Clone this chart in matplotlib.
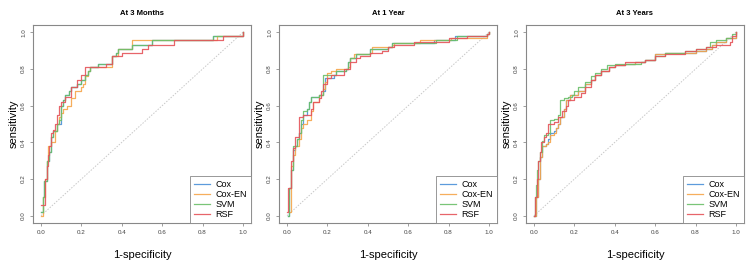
import matplotlib
matplotlib.use("Agg")
import matplotlib.pyplot as plt

plt.rcParams["font.family"] = ["Liberation Sans", "DejaVu Sans"]

# ---------- data ----------

models = ["Cox", "Cox-EN", "SVM", "RSF"]
colors = ["#4a90d9", "#f5a54a", "#6abf69", "#e5545a"]
titles = ["At 3 Months", "At 1 Year", "At 3 Years"]

# At 3 Months
m3_cox_fpr = [0, 0.01, 0.015, 0.03, 0.03, 0.04, 0.05, 0.06, 0.08, 0.1, 0.1, 0.11, 0.12, 0.14, 0.15, 0.18, 0.2, 0.22, 0.23, 0.24, 0.28, 0.35, 0.37, 0.38, 0.45, 0.55, 0.85, 0.99, 1.0]
m3_cox_tpr = [0.02, 0.1, 0.19, 0.25, 0.3, 0.35, 0.43, 0.46, 0.5, 0.55, 0.6, 0.63, 0.66, 0.68, 0.7, 0.72, 0.74, 0.77, 0.79, 0.81, 0.83, 0.87, 0.89, 0.91, 0.93, 0.96, 0.98, 0.98, 1.0]
m3_en_fpr = [0, 0.01, 0.02, 0.03, 0.035, 0.05, 0.07, 0.08, 0.09, 0.1, 0.11, 0.13, 0.15, 0.17, 0.2, 0.21, 0.22, 0.23, 0.24, 0.35, 0.38, 0.38, 0.45, 0.87, 0.99, 1.0]
m3_en_tpr = [0, 0.1, 0.2, 0.3, 0.38, 0.4, 0.46, 0.5, 0.54, 0.56, 0.58, 0.6, 0.64, 0.68, 0.7, 0.72, 0.76, 0.79, 0.81, 0.87, 0.89, 0.91, 0.96, 0.98, 0.98, 1.0]
m3_svm_fpr = [0, 0.01, 0.015, 0.03, 0.03, 0.04, 0.05, 0.06, 0.08, 0.09, 0.1, 0.11, 0.12, 0.14, 0.15, 0.18, 0.2, 0.22, 0.23, 0.24, 0.28, 0.35, 0.37, 0.38, 0.45, 0.55, 0.85, 0.99, 1.0]
m3_svm_tpr = [0.02, 0.1, 0.19, 0.25, 0.3, 0.35, 0.43, 0.46, 0.5, 0.52, 0.6, 0.63, 0.66, 0.68, 0.7, 0.72, 0.74, 0.77, 0.79, 0.81, 0.83, 0.87, 0.89, 0.91, 0.93, 0.96, 0.98, 0.98, 1.0]
m3_rsf_fpr = [0, 0.017, 0.02, 0.03, 0.035, 0.04, 0.05, 0.06, 0.07, 0.08, 0.09, 0.1, 0.12, 0.15, 0.18, 0.2, 0.22, 0.32, 0.35, 0.4, 0.5, 0.53, 0.66, 0.9, 0.99, 1.0]
m3_rsf_tpr = [0.06, 0.16, 0.2, 0.27, 0.33, 0.38, 0.45, 0.47, 0.5, 0.55, 0.6, 0.62, 0.65, 0.7, 0.74, 0.77, 0.81, 0.83, 0.87, 0.89, 0.91, 0.93, 0.96, 0.98, 0.98, 1.0]

# At 1 Year
y1_cox_fpr = [0.005, 0.01, 0.02, 0.03, 0.04, 0.05, 0.06, 0.07, 0.08, 0.1, 0.11, 0.12, 0.16, 0.18, 0.19, 0.23, 0.24, 0.29, 0.3, 0.31, 0.34, 0.4, 0.41, 0.5, 0.52, 0.73, 0.83, 0.99, 1.0]
y1_cox_tpr = [0.0, 0.15, 0.25, 0.36, 0.38, 0.42, 0.45, 0.5, 0.55, 0.58, 0.62, 0.65, 0.66, 0.68, 0.75, 0.77, 0.79, 0.8, 0.84, 0.86, 0.88, 0.88, 0.91, 0.92, 0.94, 0.96, 0.98, 0.99, 1.0]
y1_en_fpr = [0.01, 0.02, 0.03, 0.04, 0.06, 0.07, 0.08, 0.1, 0.12, 0.13, 0.16, 0.18, 0.19, 0.2, 0.22, 0.24, 0.3, 0.31, 0.33, 0.41, 0.42, 0.52, 0.53, 0.65, 0.66, 0.8, 0.81, 0.89, 0.99, 1.0]
y1_en_tpr = [0.02, 0.27, 0.33, 0.38, 0.42, 0.48, 0.5, 0.52, 0.57, 0.62, 0.66, 0.69, 0.73, 0.78, 0.79, 0.8, 0.81, 0.86, 0.88, 0.89, 0.92, 0.93, 0.94, 0.94, 0.96, 0.96, 0.97, 0.97, 0.99, 1.0]
y1_svm_fpr = [0.005, 0.01, 0.01, 0.02, 0.03, 0.04, 0.05, 0.06, 0.07, 0.08, 0.1, 0.11, 0.12, 0.16, 0.18, 0.18, 0.23, 0.24, 0.29, 0.3, 0.31, 0.34, 0.4, 0.41, 0.5, 0.52, 0.73, 0.74, 0.83, 0.84, 0.99, 1.0]
y1_svm_tpr = [0.0, 0.02, 0.15, 0.25, 0.38, 0.38, 0.42, 0.45, 0.52, 0.57, 0.58, 0.62, 0.65, 0.66, 0.68, 0.77, 0.77, 0.79, 0.8, 0.84, 0.86, 0.88, 0.88, 0.91, 0.92, 0.94, 0.94, 0.96, 0.96, 0.98, 0.99, 1.0]
y1_rsf_fpr = [0, 0.005, 0.02, 0.02, 0.03, 0.04, 0.06, 0.06, 0.08, 0.12, 0.13, 0.16, 0.17, 0.18, 0.2, 0.22, 0.28, 0.3, 0.31, 0.34, 0.36, 0.4, 0.41, 0.47, 0.5, 0.53, 0.62, 0.63, 0.79, 0.8, 0.89, 0.99, 1.0]
y1_rsf_tpr = [0.02, 0.15, 0.22, 0.3, 0.37, 0.43, 0.5, 0.54, 0.55, 0.58, 0.62, 0.64, 0.68, 0.72, 0.75, 0.77, 0.8, 0.8, 0.84, 0.86, 0.87, 0.87, 0.89, 0.9, 0.92, 0.93, 0.93, 0.95, 0.95, 0.97, 0.98, 0.99, 1.0]

# At 3 Years
y3_cox_fpr = [0, 0.01, 0.02, 0.03, 0.04, 0.06, 0.07, 0.08, 0.1, 0.11, 0.12, 0.13, 0.15, 0.16, 0.18, 0.22, 0.25, 0.28, 0.3, 0.33, 0.37, 0.4, 0.45, 0.5, 0.55, 0.6, 0.65, 0.7, 0.8, 0.85, 0.88, 0.9, 0.95, 1.0]
y3_cox_tpr = [0, 0.1, 0.2, 0.32, 0.38, 0.39, 0.42, 0.45, 0.46, 0.48, 0.5, 0.54, 0.58, 0.63, 0.66, 0.68, 0.72, 0.74, 0.77, 0.79, 0.81, 0.82, 0.83, 0.84, 0.85, 0.88, 0.89, 0.89, 0.9, 0.91, 0.93, 0.95, 0.97, 1.0]
y3_en_fpr = [0, 0.01, 0.02, 0.03, 0.04, 0.06, 0.07, 0.08, 0.1, 0.11, 0.12, 0.13, 0.15, 0.16, 0.18, 0.22, 0.25, 0.28, 0.3, 0.33, 0.37, 0.4, 0.45, 0.5, 0.55, 0.6, 0.65, 0.7, 0.8, 0.85, 0.88, 0.9, 0.95, 1.0]
y3_en_tpr = [0, 0.1, 0.2, 0.32, 0.38, 0.39, 0.4, 0.44, 0.45, 0.48, 0.5, 0.54, 0.58, 0.63, 0.66, 0.68, 0.72, 0.74, 0.77, 0.79, 0.81, 0.82, 0.83, 0.84, 0.85, 0.88, 0.89, 0.89, 0.9, 0.91, 0.93, 0.95, 0.97, 1.0]
y3_svm_fpr = [0, 0.005, 0.01, 0.015, 0.02, 0.03, 0.04, 0.05, 0.07, 0.08, 0.1, 0.12, 0.13, 0.15, 0.17, 0.19, 0.2, 0.22, 0.25, 0.28, 0.3, 0.33, 0.36, 0.4, 0.45, 0.5, 0.53, 0.55, 0.6, 0.65, 0.7, 0.75, 0.8, 0.85, 0.87, 0.9, 0.95, 0.98, 1.0]
y3_svm_tpr = [0, 0.1, 0.17, 0.25, 0.3, 0.35, 0.41, 0.44, 0.45, 0.52, 0.53, 0.55, 0.63, 0.64, 0.65, 0.66, 0.68, 0.7, 0.73, 0.76, 0.78, 0.8, 0.82, 0.83, 0.83, 0.83, 0.84, 0.85, 0.87, 0.89, 0.89, 0.9, 0.91, 0.92, 0.95, 0.96, 0.97, 0.99, 1.0]
y3_rsf_fpr = [0, 0.005, 0.015, 0.02, 0.03, 0.035, 0.05, 0.06, 0.07, 0.1, 0.12, 0.14, 0.16, 0.17, 0.2, 0.23, 0.25, 0.28, 0.3, 0.33, 0.37, 0.4, 0.45, 0.5, 0.55, 0.6, 0.65, 0.7, 0.75, 0.8, 0.85, 0.9, 0.97, 0.98, 1.0]
y3_rsf_tpr = [0, 0.1, 0.2, 0.3, 0.35, 0.4, 0.43, 0.45, 0.5, 0.51, 0.54, 0.57, 0.6, 0.63, 0.65, 0.67, 0.7, 0.74, 0.77, 0.79, 0.81, 0.82, 0.84, 0.84, 0.85, 0.87, 0.88, 0.88, 0.9, 0.91, 0.92, 0.93, 0.95, 0.98, 1.0]

panels = [
    [(m3_cox_fpr, m3_cox_tpr), (m3_en_fpr, m3_en_tpr), (m3_svm_fpr, m3_svm_tpr), (m3_rsf_fpr, m3_rsf_tpr)],
    [(y1_cox_fpr, y1_cox_tpr), (y1_en_fpr, y1_en_tpr), (y1_svm_fpr, y1_svm_tpr), (y1_rsf_fpr, y1_rsf_tpr)],
    [(y3_cox_fpr, y3_cox_tpr), (y3_en_fpr, y3_en_tpr), (y3_svm_fpr, y3_svm_tpr), (y3_rsf_fpr, y3_rsf_tpr)],
]
ticks = [0.0, 0.2, 0.4, 0.6, 0.8, 1.0]

# ---------- render ----------

fig = plt.figure(figsize=(7.5, 2.69), dpi=100)
lefts = [33, 279, 526]          # axes left edge in px
W, H = 750, 269

for k, left in enumerate(lefts):
    ax = fig.add_axes([left / W, 46 / H, 218 / W, 198 / H])
    ax.plot([0, 1], [0, 1], color="#c8c8c8", lw=0.7, ls=(0, (1.5, 1.5)), zorder=1)
    for (fpr, tpr), name, c in zip(panels[k], models, colors):
        ax.plot(fpr, tpr, drawstyle="steps-post", color=c, lw=0.9, alpha=0.9, label=name)
    ax.set_xlim(-0.04, 1.04)
    ax.set_ylim(-0.04, 1.04)
    ax.set_xticks(ticks)
    ax.set_yticks(ticks)
    ax.set_xticklabels([f"{t:.1f}" for t in ticks])
    ax.set_yticklabels([f"{t:.1f}" for t in ticks], rotation=90, va="center")
    ax.tick_params(labelsize=4.5, length=2, width=0.5, color="#777777",
                   labelcolor="#444444", pad=3)
    for s in ax.spines.values():
        s.set_color("#888888")
        s.set_linewidth(0.8)
    ax.text(0.5, 1.06, titles[k], transform=ax.transAxes, ha="center", va="center",
            fontsize=5.5, fontweight="bold")
    ax.set_xlabel("1-specificity", fontsize=8, labelpad=11)
    ax.set_ylabel("sensitivity", fontsize=8, labelpad=2)
    leg = ax.legend(loc="lower right", fontsize=6.5, borderaxespad=0, fancybox=False,
                    handlelength=1.8, handletextpad=0.6, labelspacing=0.1,
                    borderpad=0.45, edgecolor="#888888", framealpha=1)
    leg.get_frame().set_linewidth(0.6)

fig.savefig("out.png", dpi=100)
